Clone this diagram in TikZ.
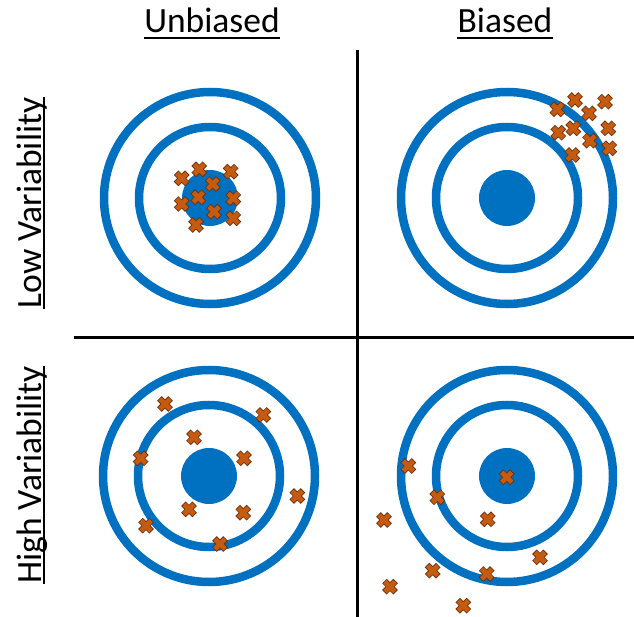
\documentclass[tikz,border=0pt]{standalone}
\usepackage{fontspec}
\setmainfont{Carlito}
\definecolor{tblue}{HTML}{0070C0}
\definecolor{xorange}{HTML}{C55A11}
\definecolor{xdark}{HTML}{6B300A}
\tikzset{
  ringline/.style={draw=tblue, line width=8.5pt},
  bull/.style={fill=tblue},
  divline/.style={draw=black, line width=3pt},
  lbl/.style={font=\fontsize{35.5}{40}\selectfont, inner sep=0pt, anchor=base},
  uline/.style={draw=black, line width=1.5pt},
  xmark/.pic={
    \draw[line width=6.4pt, draw=xdark] (-5.6,-5.6)--(5.6,5.6) (-5.6,5.6)--(5.6,-5.6);
    \draw[line width=4.8pt, draw=xorange] (-5,-5)--(5,5) (-5,5)--(5,-5);
  }
}
\begin{document}
\begin{tikzpicture}[x=1pt,y=-1pt]
\useasboundingbox[fill=white] (0,0) rectangle (634,617);
% dividers
\draw[divline] (357,50) -- (357,617);
\draw[divline] (74,337) -- (634,337);
% labels
\node[lbl] (unb) at (212,33) {Unbiased};
\node[lbl] (bia) at (505,33) {Biased};
\draw[uline] ([yshift=-5pt]unb.base west) -- ([yshift=-5pt]unb.base east);
\draw[uline] ([yshift=-5pt]bia.base west) -- ([yshift=-5pt]bia.base east);
\node[lbl, rotate=90] (low) at (41,203) {Low Variability};
\node[lbl, rotate=90] (high) at (41,475) {High Variability};
\draw[uline] ([xshift=3pt]low.base west) -- ([xshift=3pt]low.base east);
\draw[uline] ([xshift=3pt]high.base west) -- ([xshift=3pt]high.base east);
% targets
\foreach \cx/\cy in {210/198, 507/198, 209/476, 507/476}{
  \draw[ringline] (\cx,\cy) circle (106);
  \draw[ringline] (\cx,\cy) circle (71);
  \fill[bull] (\cx,\cy) circle (28);
}
% crosses
\foreach \p in {(181.7,178.3),(199.3,169.3),(230.7,171.7),(212.7,184),(198.3,197.3),(181.7,204),(233.3,198.3),(214,211.7),(233.3,218.3),(196,225),
  (557.3,109.3),(575,100),(605,101.7),(589,113.3),(558.3,132.7),(573.3,128.3),(608.3,128.3),(590,140.7),(609.3,148.3),(572.3,155),
  (165,404),(263.3,415),(194,437.3),(140.7,458.3),(244,458.3),(297.3,496),(189,509.3),(243.3,512.7),(146,525.7),(220,544),
  (408.3,466),(506.7,477.3),(437.3,497.3),(384,520),(487.7,519.3),(540,557.3),(432.7,570.7),(486.7,574),(390,586.7),(463.3,605.7)}{
  \pic at \p {xmark};
}
\end{tikzpicture}
\end{document}
